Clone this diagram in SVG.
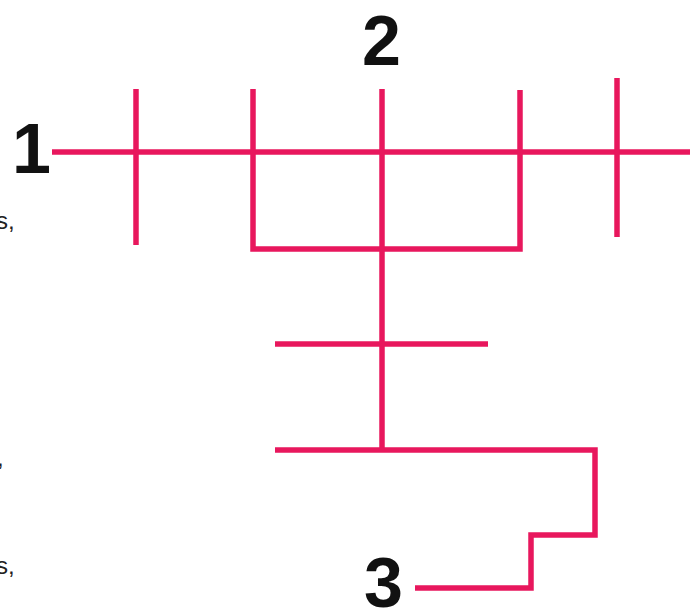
<svg xmlns="http://www.w3.org/2000/svg" width="694" height="610" viewBox="0 0 694 610">
<style>
.ln{fill:none;stroke:#E8175D;stroke-width:5.5;stroke-linecap:butt;stroke-linejoin:miter}
.lb{font-family:"Liberation Sans",Arial,sans-serif;font-weight:bold;font-size:70px;fill:#111}
.fr{font-family:"Liberation Sans",Arial,sans-serif;font-size:24px;fill:#222}
</style>
<rect width="694" height="610" fill="#fff"/>
<g id="fragments">
<text class="fr" x="-4" y="229">s,</text>
<text class="fr" x="-3" y="466">,</text>
<text class="fr" x="-4" y="574">s,</text>
</g>
<g id="connectors">
<path class="ln" d="M52 152H690"/>
<path class="ln" d="M136 89V245"/>
<path class="ln" d="M617 78V237"/>
<path class="ln" d="M253 89V249H520V90"/>
<path class="ln" d="M382 89V450"/>
<path class="ln" d="M275 344H488"/>
<path class="ln" d="M275 450H595V535H531V588H415"/>
</g>
<g id="node1"><text class="lb" x="12" y="173">1</text></g>
<g id="node2"><text class="lb" x="362" y="65">2</text></g>
<g id="node3"><text class="lb" x="364" y="607">3</text></g>
</svg>
